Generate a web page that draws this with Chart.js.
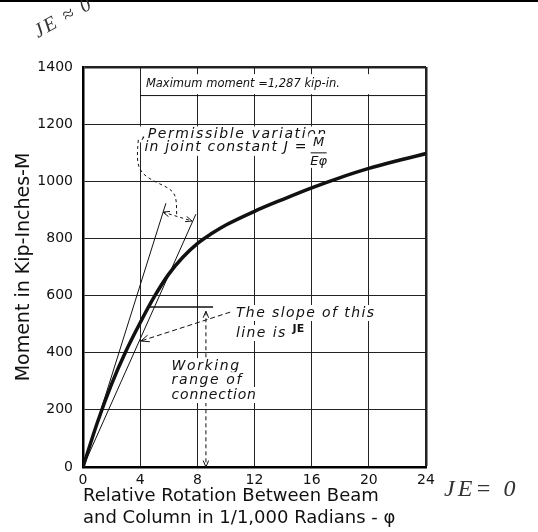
<!DOCTYPE html>
<html>
<head>
<meta charset="utf-8">
<script src="https://cdn.jsdelivr.net/npm/chart.js@4/dist/chart.umd.min.js"></script>
<style>
  body { margin: 0; background: #fff; }
</style>
</head>
<body>
<canvas id="jchart" width="538" height="532"></canvas>
<script>
// moment-rotation curve of the connection
var rotation = [0, 1, 2, 3, 4, 5, 6, 7, 8, 9, 10, 12, 14, 16, 18, 20, 22, 24];
var moment = [0, 155, 290, 405, 505, 597, 675, 735, 782, 817, 847, 895, 937, 977, 1013, 1045, 1072, 1097];
// the two straight lines bounding the permissible joint constant
var steepRot = [0, 5.8];
var steepMom = [0, 923];
var flatRot = [0, 7.9];
var flatMom = [0, 885];
var xTicks = [0, 4, 8, 12, 16, 20, 24];
var yTicks = [0, 200, 400, 600, 800, 1000, 1200, 1400];

function pts(xs, ys) {
  var out = [];
  for (var i = 0; i < xs.length; i++) out.push({x: xs[i], y: ys[i]});
  return out;
}

var ink = '#111';

function arrowHead(ctx, x1, y1, x2, y2, size) {
  var a = Math.atan2(y2 - y1, x2 - x1);
  ctx.save();
  ctx.setLineDash([]);
  ctx.beginPath();
  ctx.moveTo(x2, y2);
  ctx.lineTo(x2 - size * Math.cos(a - 0.4), y2 - size * Math.sin(a - 0.4));
  ctx.moveTo(x2, y2);
  ctx.lineTo(x2 - size * Math.cos(a + 0.4), y2 - size * Math.sin(a + 0.4));
  ctx.stroke();
  ctx.restore();
}

var annotate = {
  id: 'annotate',
  beforeDatasetsDraw: function (chart) {
    var ctx = chart.ctx, xs = chart.scales.x, ys = chart.scales.y;
    function X(v) { return xs.getPixelForValue(v); }
    function Y(v) { return ys.getPixelForValue(v); }
    function label(text, x, y, font, spacing) {
      ctx.font = font;
      ctx.letterSpacing = spacing || '0px';
      var w = ctx.measureText(text).width;
      ctx.fillStyle = '#fff';
      ctx.fillRect(x - 2, y - 8, w + 4, 16);
      ctx.fillStyle = ink;
      ctx.textAlign = 'left';
      ctx.textBaseline = 'middle';
      ctx.fillText(text, x, y);
      return w;
    }
    ctx.save();
    ctx.strokeStyle = ink;
    ctx.lineWidth = 1;

    // working range marker
    ctx.lineWidth = 1.5;
    ctx.beginPath();
    ctx.moveTo(X(4.6), Y(560));
    ctx.lineTo(X(9.1), Y(560));
    ctx.stroke();
    ctx.lineWidth = 1;
    ctx.setLineDash([4, 3]);
    ctx.beginPath();
    ctx.moveTo(X(8.6), Y(545));
    ctx.lineTo(X(8.6), Y(0));
    ctx.stroke();
    arrowHead(ctx, X(8.6), Y(500), X(8.6), Y(545), 7);
    arrowHead(ctx, X(8.6), Y(50), X(8.6), Y(0), 7);

    // slope arrow
    ctx.setLineDash([5, 3]);
    ctx.beginPath();
    ctx.moveTo(X(10.3), Y(542));
    ctx.lineTo(X(4.05), Y(441));
    ctx.stroke();
    arrowHead(ctx, X(6), Y(473), X(4.05), Y(441), 9);

    // curly arrow from the J note down to the two limits
    ctx.setLineDash([3, 3]);
    ctx.beginPath();
    ctx.moveTo(X(3.87), Y(1145));
    ctx.bezierCurveTo(X(3.7), Y(1050), X(3.8), Y(1030), X(5.2), Y(995));
    ctx.bezierCurveTo(X(6.5), Y(965), X(6.55), Y(960), X(6.55), Y(882));
    ctx.stroke();
    ctx.beginPath();
    ctx.moveTo(X(5.6), Y(892));
    ctx.lineTo(X(7.63), Y(861));
    ctx.stroke();
    arrowHead(ctx, X(6.6), Y(877), X(5.6), Y(892), 7);
    arrowHead(ctx, X(6.6), Y(877), X(7.63), Y(861), 7);
    ctx.setLineDash([]);

    // maximum moment box
    ctx.fillStyle = '#fff';
    ctx.fillRect(X(4) + 1, Y(1375), X(24) - X(4) - 2, Y(1305) - Y(1375));
    ctx.beginPath();
    ctx.moveTo(X(4), Y(1300));
    ctx.lineTo(X(24), Y(1300));
    ctx.stroke();
    label('Maximum moment =1,287 kip-in.', X(4.4), Y(1340), 'italic 11.5px "DejaVu Sans"', '0px');

    // joint constant note
    var f = 'italic 14px "DejaVu Sans"';
    label(',Permissible variation', X(4.1), Y(1164), f, '1.6px');
    var w2 = label('in joint constant J =', X(4.3), Y(1117), f, '1.2px');
    var fx = X(4.3) + w2 + 11, fy = Y(1117);
    ctx.fillStyle = '#fff';
    ctx.fillRect(fx - 10, fy - 14, 20, 34);
    ctx.fillStyle = ink;
    ctx.font = 'italic 13px "DejaVu Sans"';
    ctx.letterSpacing = '0px';
    ctx.textAlign = 'center';
    ctx.textBaseline = 'middle';
    ctx.fillText('M', fx, fy - 5);
    ctx.fillText('Eφ', fx, fy + 14);
    ctx.beginPath();
    ctx.moveTo(fx - 8, fy + 5);
    ctx.lineTo(fx + 8, fy + 5);
    ctx.stroke();

    // slope note
    label('The slope of this', X(10.7), Y(539), f, '1.4px');
    var w3 = label('line is', X(10.7), Y(469), f, '1.4px');
    ctx.font = 'bold 11px "DejaVu Sans"';
    ctx.letterSpacing = '0px';
    ctx.textAlign = 'left';
    ctx.fillText('JE', X(10.7) + w3 + 6, Y(469) - 4);

    // working range note
    label('Working', X(6.2), Y(353), f, '1.6px');
    label('range of', X(6.2), Y(304), f, '1.6px');
    label('connection', X(6.2), Y(252), f, '0.8px');
    ctx.restore();
  },
  afterDraw: function (chart) {
    var ctx = chart.ctx;
    ctx.save();
    ctx.fillStyle = '#000';
    ctx.fillRect(0, 0, chart.width, 2);
    // pencil notes on the scan
    ctx.fillStyle = '#333';
    ctx.font = 'italic 20px "Liberation Serif"';
    ctx.letterSpacing = '2px';
    ctx.textAlign = 'left';
    ctx.textBaseline = 'alphabetic';
    ctx.translate(38, 38);
    ctx.rotate(-0.5);
    ctx.fillText('JE ≈ 0', 0, 0);
    ctx.restore();
    ctx.save();
    ctx.fillStyle = '#333';
    ctx.font = 'italic 24px "Liberation Serif"';
    ctx.letterSpacing = '3px';
    ctx.textAlign = 'left';
    ctx.textBaseline = 'middle';
    ctx.fillText('JE= 0', 444, 490);
    ctx.restore();
  }
};

var ctx = document.getElementById('jchart');
var jChart = new Chart(ctx, {
  type: 'line',
  data: {
    datasets: [
      {
        label: 'Moment-rotation curve',
        data: pts(rotation, moment),
        borderColor: ink,
        borderWidth: 3.5,
        pointRadius: 0,
        cubicInterpolationMode: 'monotone',
        fill: false
      },
      {
        label: 'Upper limit',
        data: pts(steepRot, steepMom),
        borderColor: ink,
        borderWidth: 1,
        pointRadius: 0,
        fill: false
      },
      {
        label: 'Lower limit',
        data: pts(flatRot, flatMom),
        borderColor: ink,
        borderWidth: 1,
        pointRadius: 0,
        fill: false
      }
    ]
  },
  options: {
    responsive: false,
    animation: false,
    layout: { padding: { top: 67, right: 112, left: 0, bottom: 0 } },
    plugins: {
      legend: { display: false },
      tooltip: { enabled: false }
    },
    scales: {
      x: {
        type: 'linear',
        min: 0,
        max: 24,
        afterBuildTicks: function (scale) {
          scale.ticks = xTicks.map(function (v) { return {value: v}; });
        },
        afterFit: function (scale) { scale.height = 65; },
        grid: {
          color: '#222',
          lineWidth: function (c) { return c.tick && c.tick.value === 24 ? 2.5 : 1; },
          drawTicks: false
        },
        border: { color: '#000', width: 2.5 },
        ticks: {
          color: ink,
          padding: 5,
          maxRotation: 0,
          font: { family: 'DejaVu Sans', size: 14 },
          callback: function (v) { return String(v); }
        },
        title: {
          display: true,
          text: ['Relative Rotation Between Beam', 'and Column in 1/1,000 Radians - φ'],
          align: 'start',
          color: ink,
          font: { family: 'DejaVu Sans', size: 18 },
          padding: { top: 0, bottom: 3 }
        }
      },
      y: {
        min: 0,
        max: 1400,
        afterBuildTicks: function (scale) {
          scale.ticks = yTicks.map(function (v) { return {value: v}; });
        },
        afterFit: function (scale) { scale.width = 83; },
        grid: {
          color: '#222',
          lineWidth: function (c) { return c.tick && c.tick.value === 1400 ? 2.5 : 1; },
          drawTicks: false
        },
        border: { color: '#000', width: 2.5 },
        ticks: {
          color: ink,
          padding: 10,
          font: { family: 'DejaVu Sans', size: 14 },
          callback: function (v) { return String(v); }
        },
        title: {
          display: true,
          text: 'Moment in Kip-Inches-M',
          color: ink,
          font: { family: 'DejaVu Sans', size: 19 },
          padding: { top: 13, bottom: 0 }
        }
      }
    }
  },
  plugins: [annotate]
});
</script>
</body>
</html>
